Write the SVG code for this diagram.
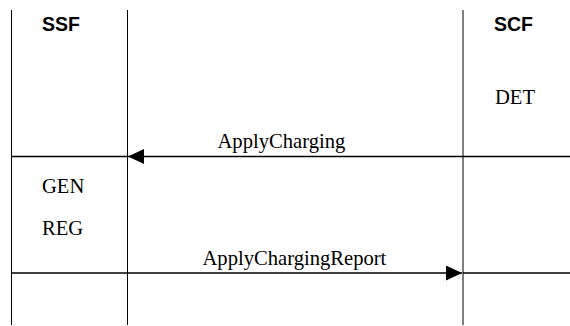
<svg xmlns="http://www.w3.org/2000/svg" width="570" height="326" viewBox="0 0 570 326">
  <style>
    .life { stroke: #000; stroke-width: 1; fill: none; }
    .msg { stroke: #000; stroke-width: 1.4; fill: none; }
    .head { font-family: "Liberation Sans", Arial, sans-serif; font-weight: bold; font-size: 19.5px; fill: #000; }
    .lbl { font-family: "Liberation Serif", "Times New Roman", serif; font-size: 20.6px; fill: #000; }
  </style>
  <defs>
    <marker id="arr" viewBox="0 0 16 15" refX="16" refY="7.5" markerWidth="16" markerHeight="15" markerUnits="userSpaceOnUse" orient="auto">
      <path d="M0,0 L16,7.5 L0,15 Z" fill="#000"/>
    </marker>
  </defs>
  <rect width="570" height="326" fill="#fff"/>
  <g id="ssf">
    <line class="life" x1="11.5" y1="10" x2="11.5" y2="325"/>
    <line class="life" x1="127.5" y1="10" x2="127.5" y2="325"/>
    <text class="head" x="42" y="31">SSF</text>
    <text class="lbl" x="42" y="192.5">GEN</text>
    <text class="lbl" x="42" y="235">REG</text>
  </g>
  <g id="scf">
    <line class="life" x1="463" y1="10" x2="463" y2="325"/>
    <text class="head" x="494" y="31">SCF</text>
    <text class="lbl" x="495" y="104">DET</text>
  </g>
  <g id="connectors">
    <line class="msg" x1="11" y1="156.5" x2="127" y2="156.5"/>
    <line class="msg" x1="570" y1="156.5" x2="128" y2="156.5" marker-end="url(#arr)"/>
    <text class="lbl" x="217.5" y="148">ApplyCharging</text>
    <line class="msg" x1="11" y1="273" x2="462" y2="273" marker-end="url(#arr)"/>
    <line class="msg" x1="463" y1="273" x2="570" y2="273"/>
    <text class="lbl" x="202.5" y="265">ApplyChargingReport</text>
  </g>
</svg>
